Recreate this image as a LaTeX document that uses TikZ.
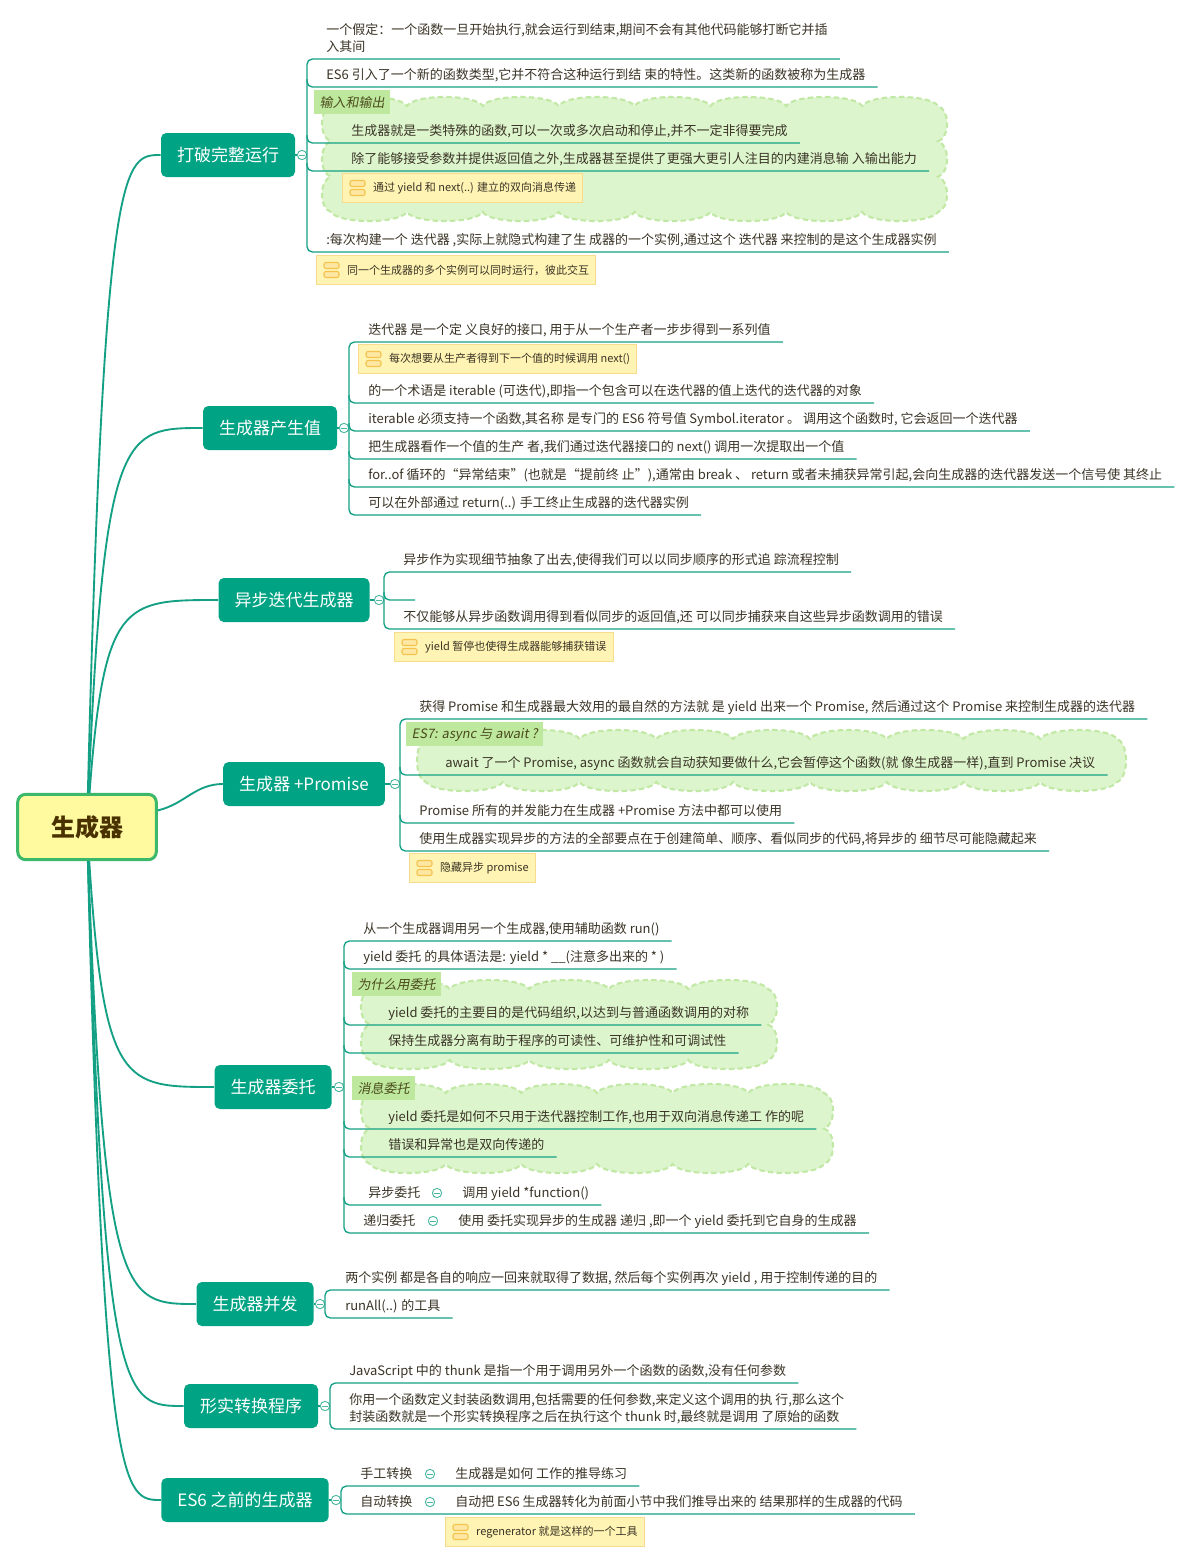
\documentclass[tikz,border=0pt]{standalone}
\usepackage{fontspec}
\setmainfont{Noto Sans CJK SC}
\newfontfamily\slantcjk{Noto Sans CJK SC}[FakeSlant=0.18]
\usepackage{tikz}
\usetikzlibrary{calc}

\definecolor{mmteal}{HTML}{00A383}
\definecolor{mmline}{HTML}{14A085}
\definecolor{foldedge}{HTML}{4DB8A2}
\definecolor{mmtext}{HTML}{3A3426}
\definecolor{rootfill}{HTML}{FFFAA0}
\definecolor{rootedge}{HTML}{3CB86B}
\definecolor{rootink}{HTML}{4A3200}
\definecolor{cloudfill}{HTML}{DDF5CD}
\definecolor{cloudedge}{HTML}{C2E8A6}
\definecolor{sumfill}{HTML}{BDE89D}
\definecolor{sumink}{HTML}{4B4A1C}
\definecolor{notefill}{HTML}{FFF4B3}
\definecolor{noteedge}{HTML}{F6DC8C}
\definecolor{iconedge}{HTML}{F3C34E}
\definecolor{iconfill}{HTML}{FDE7A2}

\newcommand{\leaffont}{\fontsize{9.75}{12.75}\selectfont}

\tikzset{
  rootbox/.style={draw=rootedge, line width=2.25pt, fill=rootfill, rounded corners=6pt, minimum width=104pt, minimum height=49pt, text=rootink, font=\fontsize{18}{20}\selectfont\bfseries},
  topicbox/.style={fill=mmteal, rounded corners=4pt, text=white, inner xsep=12pt, minimum height=33pt, font=\fontsize{12.75}{15}\selectfont},
  rootlink/.style={draw=mmline, line width=1.4pt},
  spine/.style={draw=mmline, line width=1pt, rounded corners=4pt},
  fold/.style={circle, draw=foldedge, fill=white, line width=0.7pt, minimum size=7pt, inner sep=0pt, path picture={\draw[foldedge, line width=0.7pt] ([xshift=-2pt]path picture bounding box.center) -- ([xshift=2pt]path picture bounding box.center);}},
  leaf/.style={anchor=south west, inner xsep=9pt, inner ysep=5.25pt, text depth=0pt, text=mmtext, font=\leaffont, align=left},
  sumlabel/.style={anchor=north west, fill=sumfill, inner xsep=4pt, minimum height=18pt, text=sumink, font=\slantcjk\leaffont},
  notenode/.style={anchor=west, draw=noteedge, fill=notefill, line width=0.75pt, inner xsep=5pt, minimum height=22pt, text=mmtext, font=\fontsize{8.25}{10}\selectfont},
  noteicon/.style={draw=iconedge, fill=iconfill, line width=0.8pt, rounded corners=1.5pt},
  cloudline/.style={draw=cloudedge, fill=cloudfill, line width=1.6pt, dash pattern=on 4pt off 2.5pt},
}

% scalloped boundary round a group of topics: x0, y0, x1, y1
\newcommand{\cloudshape}[4]{%
  \pgfmathsetmacro\cldw{#3-#1}%
  \pgfmathsetmacro\cldh{#4-#2}%
  \pgfmathtruncatemacro\cldn{max(1,round(\cldw/76))}%
  \pgfmathtruncatemacro\cldm{max(1,round(\cldh/40))}%
  \pgfmathsetmacro\cldx{\cldw/\cldn}%
  \pgfmathsetmacro\cldy{\cldh/\cldm}%
  \draw[cloudline] (#1,#2)
    \foreach \k in {1,...,\cldn}{ .. controls +(0.1*\cldx,-12) and +(-0.1*\cldx,-12) .. ++(\cldx,0) }
    \foreach \k in {1,...,\cldm}{ .. controls +(12,0.1*\cldy) and +(12,-0.1*\cldy) .. ++(0,\cldy) }
    \foreach \k in {1,...,\cldn}{ .. controls +(-0.1*\cldx,12) and +(0.1*\cldx,12) .. ++(-\cldx,0) }
    \foreach \k in {1,...,\cldm}{ .. controls +(-12,-0.1*\cldy) and +(-12,0.1*\cldy) .. ++(0,-\cldy) }
    -- cycle;
}

% yellow note with its icon: name, west point, text
\newcommand{\addnote}[3]{%
  \node[notenode] (#1) at (#2) {\hspace*{18pt}#3};
  \draw[noteicon] ($(#1.west)+(8,-7.5)$) rectangle ++(15,6);
  \draw[noteicon] ($(#1.west)+(8,1.5)$) rectangle ++(15,6);
}

\begin{document}
\begin{tikzpicture}[x=0.75pt,y=0.75pt,yscale=-1,xscale=1]
\fill[white] (0,0) rectangle (1197,1563);
\useasboundingbox (0,0) rectangle (1197,1563);

%Shape: Clouds
\cloudshape{331}{106}{938}{212}
\cloudshape{426}{739}{1117}{782}
\cloudshape{370}{989}{768}{1060}
\cloudshape{370}{1093}{824}{1164}

% Root and main topics
\node[topicbox] (b1) at (228,155) {打破完整运行};
\node[topicbox] (b2) at (270,428) {生成器产生值};
\node[topicbox] (b3) at (294,600) {异步迭代生成器};
\node[topicbox] (b4) at (304,784) {生成器 +Promise};
\node[topicbox] (b5) at (273,1087) {生成器委托};
\node[topicbox] (b6) at (255,1304) {生成器并发};
\node[topicbox] (b7) at (251,1406) {形实转换程序};
\node[topicbox] (b8) at (245,1500) {ES6 之前的生成器};
\node[rootbox] (root) at (87,827) {生成器};

\foreach \b/\y in {b1/155,b2/428,b3/600,b5/1087,b6/1304,b7/1406,b8/1500}
  \draw[rootlink] (root) .. controls (104,\y) and (124,\y) .. (\b.west);
\draw[rootlink] (root) .. controls (185,804) and (195,784) .. (b4.west);

% Fold markers
\node[fold] (k1) at (302,155) {};
\node[fold] (k2) at (344,428) {};
\node[fold] (k3) at (379,600) {};
\node[fold] (k4) at (395,784) {};
\node[fold] (k5) at (339,1087) {};
\node[fold] (k6) at (320,1304) {};
\node[fold] (k7) at (325,1406) {};
\node[fold] (k8) at (336,1500) {};
\foreach \i in {1,...,8}
  \draw[spine] (b\i.east) -- (k\i.west);

% 打破完整运行
\node[leaf] (a1) at (314,59) {一个假定：一个函数一旦开始执行,就会运行到结束,期间不会有其他代码能够打断它并插\\入其间};
\node[leaf] (a2) at (314,87) {ES6 引入了一个新的函数类型,它并不符合这种运行到结 束的特性。这类新的函数被称为生成器};
\node[leaf] (a3) at (339,143) {生成器就是一类特殊的函数,可以一次或多次启动和停止,并不一定非得要完成};
\node[leaf] (a4) at (339,171) {除了能够接受参数并提供返回值之外,生成器甚至提供了更强大更引人注目的内建消息输 入输出能力};
\node[leaf] (a5) at (314,252) {:每次构建一个 迭代器 ,实际上就隐式构建了生 成器的一个实例,通过这个 迭代器 来控制的是这个生成器实例};
\draw[spine] (a1.south east) -- (307,59) -- (307,252) -- (a5.south east);
\foreach \c/\y in {a2/87,a3/143,a4/171}
  \draw[spine] (307,\y-8) |- (\c.south east);
\node[sumlabel] (s1) at (314,90) {输入和输出};
\addnote{n1}{342,188}{通过 yield 和 next(..) 建立的双向消息传递}
\addnote{n2}{316,270}{同一个生成器的多个实例可以同时运行，彼此交互}

% 生成器产生值
\node[leaf] (p1) at (356,342) {迭代器 是一个定 义良好的接口, 用于从一个生产者一步步得到一系列值};
\node[leaf] (p2) at (356,403) {的一个术语是 iterable (可迭代),即指一个包含可以在迭代器的值上迭代的迭代器的对象};
\node[leaf] (p3) at (356,431) {iterable 必须支持一个函数,其名称 是专门的 ES6 符号值 Symbol.iterator 。 调用这个函数时, 它会返回一个迭代器};
\node[leaf] (p4) at (356,459) {把生成器看作一个值的生产 者,我们通过迭代器接口的 next() 调用一次提取出一个值};
\node[leaf] (p5) at (356,487) {for..of 循环的“异常结束”(也就是“提前终 止”),通常由 break 、 return 或者未捕获异常引起,会向生成器的迭代器发送一个信号使 其终止};
\node[leaf] (p6) at (356,515) {可以在外部通过 return(..) 手工终止生成器的迭代器实例};
\draw[spine] (p1.south east) -- (349,342) -- (349,515) -- (p6.south east);
\foreach \c/\y in {p2/403,p3/431,p4/459,p5/487}
  \draw[spine] (349,\y-8) |- (\c.south east);
\addnote{n3}{358,359}{每次想要从生产者得到下一个值的时候调用 next()}

% 异步迭代生成器
\node[leaf] (q1) at (391,572) {异步作为实现细节抽象了出去,使得我们可以以同步顺序的形式追 踪流程控制};
\coordinate (q2) at (415,600);
\node[leaf] (q3) at (391,629) {不仅能够从异步函数调用得到看似同步的返回值,还 可以同步捕获来自这些异步函数调用的错误};
\draw[spine] (q1.south east) -- (384,572) -- (384,629) -- (q3.south east);
\draw[spine] (384,592) |- (q2);
\addnote{n4}{394,647}{yield 暂停也使得生成器能够捕获错误}

% 生成器 +Promise
\node[leaf] (r1) at (407,719) {获得 Promise 和生成器最大效用的最自然的方法就 是 yield 出来一个 Promise, 然后通过这个 Promise 来控制生成器的迭代器};
\node[leaf] (r2) at (433,775) {await 了一个 Promise, async 函数就会自动获知要做什么,它会暂停这个函数(就 像生成器一样),直到 Promise 决议};
\node[leaf] (r3) at (407,823) {Promise 所有的并发能力在生成器 +Promise 方法中都可以使用};
\node[leaf] (r4) at (407,851) {使用生成器实现异步的方法的全部要点在于创建简单、顺序、看似同步的代码,将异步的 细节尽可能隐藏起来};
\draw[spine] (r1.south east) -- (400,719) -- (400,851) -- (r4.south east);
\foreach \c/\y in {r2/775,r3/823}
  \draw[spine] (400,\y-8) |- (\c.south east);
\node[sumlabel] (s2) at (406,722) {ES7: async 与 await ?};
\addnote{n5}{409,868}{隐藏异步 promise}

% 生成器委托
\node[leaf] (d1) at (351,941) {从一个生成器调用另一个生成器,使用辅助函数 run()};
\node[leaf] (d2) at (351,969) {yield 委托 的具体语法是: yield * \_\_(注意多出来的 * )};
\node[leaf] (d3) at (376,1025) {yield 委托的主要目的是代码组织,以达到与普通函数调用的对称};
\node[leaf] (d4) at (376,1053) {保持生成器分离有助于程序的可读性、可维护性和可调试性};
\node[leaf] (d5) at (376,1129) {yield 委托是如何不只用于迭代器控制工作,也用于双向消息传递工 作的呢};
\node[leaf] (d6) at (376,1157) {错误和异常也是双向传递的};
\node[leaf] (d7) at (356,1205) {异步委托};
\node[fold] (d7k) at (437,1193) {};
\node[leaf] (d7c) at (450,1205) {调用 yield *function()};
\node[leaf] (d8) at (351,1233) {递归委托};
\node[fold] (d8k) at (433,1221) {};
\node[leaf] (d8c) at (446,1233) {使用 委托实现异步的生成器 递归 ,即一个 yield 委托到它自身的生成器};
\draw[spine] (d1.south east) -- (344,941) -- (344,1233) -- (d8c.south east);
\foreach \c/\y in {d2/969,d3/1025,d4/1053,d5/1129,d6/1157,d7c/1205}
  \draw[spine] (344,\y-8) |- (\c.south east);
\node[sumlabel] (s3) at (352,972) {为什么用委托};
\node[sumlabel] (s4) at (352,1076) {消息委托};

% 生成器并发
\node[leaf] (e1) at (333,1290) {两个实例 都是各自的响应一回来就取得了数据, 然后每个实例再次 yield , 用于控制传递的目的};
\node[leaf] (e2) at (333,1318) {runAll(..) 的工具};
\draw[spine] (e1.south east) -- (325,1290) -- (325,1318) -- (e2.south east);

% 形实转换程序
\node[leaf] (f1) at (337,1383) {JavaScript 中的 thunk 是指一个用于调用另外一个函数的函数,没有任何参数};
\node[leaf] (f2) at (337,1429) {你用一个函数定义封装函数调用,包括需要的任何参数,来定义这个调用的执 行,那么这个\\封装函数就是一个形实转换程序之后在执行这个 thunk 时,最终就是调用 了原始的函数};
\draw[spine] (f1.south east) -- (330,1383) -- (330,1429) -- (f2.south east);

% ES6 之前的生成器
\node[leaf] (g1) at (348,1486) {手工转换};
\node[fold] (g1k) at (430,1474) {};
\node[leaf] (g1c) at (443,1486) {生成器是如何 工作的推导练习};
\node[leaf] (g2) at (348,1514) {自动转换};
\node[fold] (g2k) at (430,1502) {};
\node[leaf] (g2c) at (443,1514) {自动把 ES6 生成器转化为前面小节中我们推导出来的 结果那样的生成器的代码};
\draw[spine] (g1c.south east) -- (341,1486) -- (341,1514) -- (g2c.south east);
\addnote{n6}{445,1532}{regenerator 就是这样的一个工具}

\end{tikzpicture}
\end{document}
